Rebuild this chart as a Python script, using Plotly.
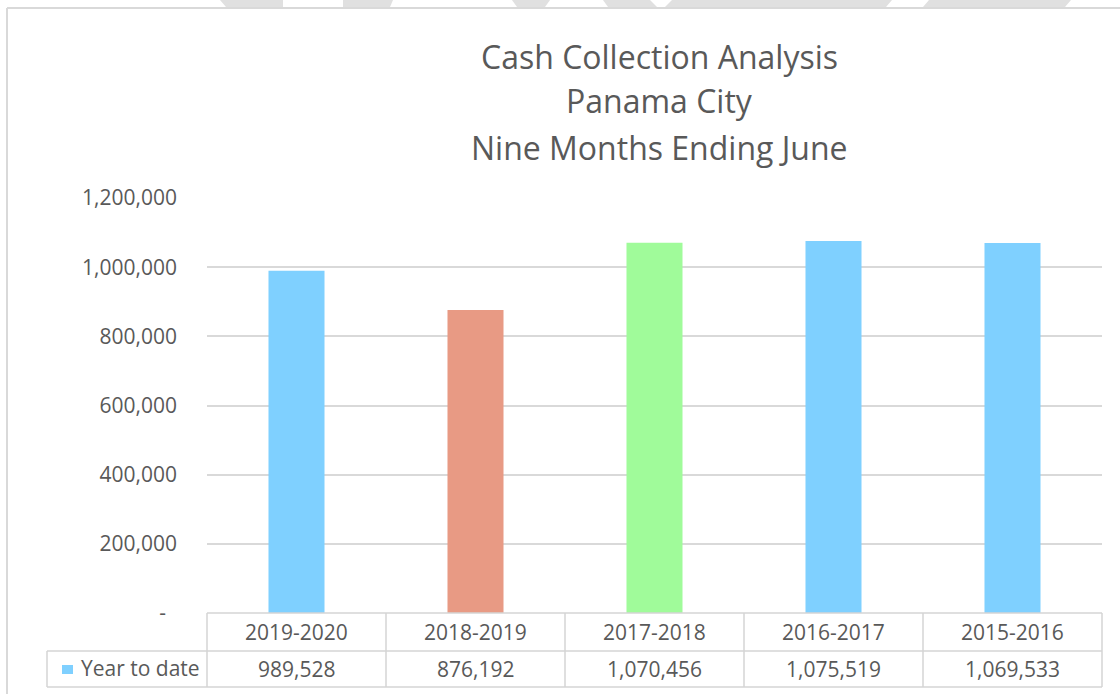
import plotly.graph_objects as go

# ---- data ----
categories = ["2019-2020", "2018-2019", "2017-2018", "2016-2017", "2015-2016"]
values = [989528, 876192, 1070456, 1075519, 1069533]
bar_colors = ["#7FD0FF", "#E89A84", "#A0FB9A", "#7FD0FF", "#7FD0FF"]
series_name = "Year to date"
title_lines = ["Cash Collection Analysis", "Panama City", "Nine Months Ending June"]
y_tickvals = [0, 200000, 400000, 600000, 800000, 1000000, 1200000]
y_ticktext = ["-\u00a0\u00a0", "200,000", "400,000", "600,000", "800,000", "1,000,000", "1,200,000"]

W, H = 1120, 694
L, R, T, B = 207, 1102, 198, 613  # plot area in pixels
FONT = "Open Sans, sans-serif"
TXT = "#595959"
GRID = "#D9D9D9"

def xp(px):
    return (px - L) / (R - L)

def yp(py):
    return (B - py) / (B - T)

fig = go.Figure()
fig.add_trace(go.Bar(
    x=categories, y=values, marker=dict(color=bar_colors, line=dict(width=0)),
    width=0.313, name=series_name, showlegend=False, hoverinfo="x+y"))

shapes = []
line = dict(color="#D4D4D4", width=1.5)
# table horizontal lines
shapes.append(dict(type="line", xref="paper", yref="paper", x0=xp(207), x1=xp(1102), y0=yp(613), y1=yp(613), line=line))
for py in (651, 687):
    shapes.append(dict(type="line", xref="paper", yref="paper", x0=xp(47), x1=xp(1102), y0=yp(py), y1=yp(py), line=line))
# table vertical lines
for px in (207, 386, 565, 744, 923, 1102):
    shapes.append(dict(type="line", xref="paper", yref="paper", x0=xp(px), x1=xp(px), y0=yp(613), y1=yp(687), line=line))
shapes.append(dict(type="line", xref="paper", yref="paper", x0=xp(47), x1=xp(47), y0=yp(651), y1=yp(687), line=line))
# legend key
shapes.append(dict(type="rect", xref="paper", yref="paper", x0=xp(62), x1=xp(73), y0=yp(674), y1=yp(665),
                   line=dict(width=0), fillcolor=bar_colors[0]))
# chart frame
frame = dict(color="#D9D9D9", width=2)
shapes.append(dict(type="line", xref="paper", yref="paper", x0=xp(7), x1=xp(7), y0=yp(8), y1=yp(700), line=frame))
shapes.append(dict(type="line", xref="paper", yref="paper", x0=xp(7), x1=xp(1125), y0=yp(8), y1=yp(8), line=frame))
# watermark fragments above the frame
wm = [(220, 226, 283, 283), (343, 343, 390, 393), (512, 517, 545, 550), (603, 608, 657, 650),
      (672, 665, 886, 892), (929, 923, 1065, 1071)]
for a_top, a_bot, b_bot, b_top in wm:
    path = "M {},{} L {},{} L {},{} L {},{} Z".format(
        xp(a_top), yp(0), xp(a_bot), yp(7), xp(b_bot), yp(7), xp(b_top), yp(0))
    shapes.append(dict(type="path", xref="paper", yref="paper", path=path,
                       line=dict(width=0), fillcolor="#E0E0E0", layer="below"))

annotations = []
for line_txt, py in zip(title_lines, (57, 101, 147)):
    annotations.append(dict(text=line_txt, xref="paper", yref="paper", x=xp(659), y=yp(py),
                            showarrow=False, xanchor="center", yanchor="middle",
                            font=dict(family=FONT, size=32, color=TXT)))
for c, v in zip(categories, values):
    annotations.append(dict(text=c, xref="x", yref="paper", x=c, y=yp(632), showarrow=False,
                            xanchor="center", yanchor="middle", font=dict(family=FONT, size=21, color=TXT)))
    annotations.append(dict(text=f"{v:,}", xref="x", yref="paper", x=c, y=yp(669), showarrow=False,
                            xanchor="center", yanchor="middle", font=dict(family=FONT, size=21, color=TXT)))
annotations.append(dict(text=series_name, xref="paper", yref="paper", x=xp(79), y=yp(668), showarrow=False,
                        xanchor="left", yanchor="middle", font=dict(family=FONT, size=21, color=TXT)))

fig.update_layout(
    width=W, height=H,
    margin=dict(l=L, r=W - R, t=T, b=H - B, pad=0),
    paper_bgcolor="white", plot_bgcolor="white",
    shapes=shapes, annotations=annotations,
    xaxis=dict(type="category", range=[-0.5, 4.5], showticklabels=False, showgrid=False,
               zeroline=False, showline=False, ticks=""),
    yaxis=dict(range=[0, 1200000], tickvals=y_tickvals, ticktext=y_ticktext,
               showgrid=True, gridcolor=GRID, gridwidth=1.5, zeroline=False, showline=False,
               ticks="", ticklabelstandoff=29,
               tickfont=dict(family=FONT, size=21, color=TXT)),
    bargap=0.687, showlegend=False,
)

fig.write_html("out.html")
